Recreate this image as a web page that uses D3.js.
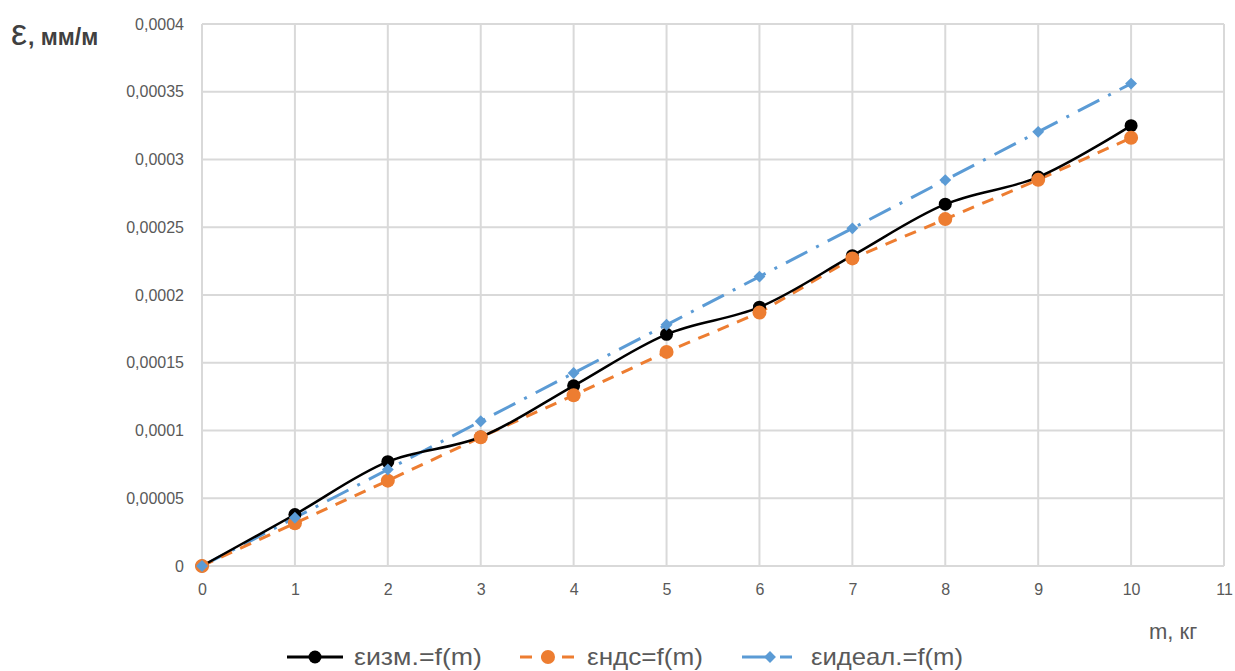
<!DOCTYPE html>
<html><head><meta charset="utf-8">
<script src="https://cdn.jsdelivr.net/npm/d3@7"></script>
<style>
html,body{margin:0;padding:0;background:#fff;}
svg{display:block;font-family:"Liberation Sans","Open Sans",sans-serif;}
</style></head>
<body>
<svg id="chart" width="1235" height="671"></svg>
<script>
const masses = [0,1,2,3,4,5,6,7,8,9,10];
const epsMeasured = [0,0.0000380,0.0000770,0.0000952,0.000133,0.000171,0.000191,0.000229,0.000267,0.000287,0.000325];
const epsNDS = [0,0.0000316,0.0000630,0.0000950,0.000126,0.000158,0.000187,0.000227,0.000256,0.000285,0.000316];
const epsIdeal = [0,0.0000356,0.0000712,0.0001068,0.0001424,0.000178,0.0002136,0.0002492,0.0002848,0.0003204,0.000356];
const xTicks = [0,1,2,3,4,5,6,7,8,9,10,11];
const yTicks = [0,0.00005,0.0001,0.00015,0.0002,0.00025,0.0003,0.00035,0.0004];
const yTickLabels = ["0","0,00005","0,0001","0,00015","0,0002","0,00025","0,0003","0,00035","0,0004"];
const seriesNames = ["εизм.=f(m)","εндс=f(m)","εидеал.=f(m)"];

const svg = d3.select("#chart");
const x = d3.scaleLinear().domain([0,11]).range([202,1224]);
const y = d3.scaleLinear().domain([0,0.0004]).range([566,24]);
const grid = "#d9d9d9", txt = "#595959";

// gridlines
svg.append("g").selectAll("line").data(yTicks).join("line")
  .attr("x1",x(0)).attr("x2",x(11)).attr("y1",d=>y(d)).attr("y2",d=>y(d))
  .attr("stroke",grid).attr("stroke-width",2);
svg.append("g").selectAll("line").data(xTicks).join("line")
  .attr("y1",y(0)).attr("y2",y(0.0004)).attr("x1",d=>x(d)).attr("x2",d=>x(d))
  .attr("stroke",grid).attr("stroke-width",2);

// axes
const yAxis = d3.axisLeft(y).tickValues(yTicks).tickFormat((d,i)=>yTickLabels[i]).tickSize(0).tickPadding(18);
const gy = svg.append("g").attr("transform",`translate(${x(0)},0)`).call(yAxis);
gy.select(".domain").remove();
gy.selectAll("text").attr("fill",txt).style("font-size","16px").style("font-family","Liberation Sans, sans-serif");

const xAxis = d3.axisBottom(x).tickValues(xTicks).tickFormat(d3.format("d")).tickSize(0).tickPadding(18);
const gx = svg.append("g").attr("transform",`translate(0,${y(0)})`).call(xAxis);
gx.select(".domain").remove();
gx.selectAll("text").attr("fill",txt).style("font-size","16px").style("font-family","Liberation Sans, sans-serif");

// axis titles
const yt = svg.append("text").attr("x",11).attr("y",45).attr("fill","#404040");
yt.append("tspan").text("ε").style("font-size","36px");
yt.append("tspan").text(", мм/м").style("font-size","23px").style("font-weight","bold").attr("dx",1);
svg.append("text").attr("x",1149).attr("y",639).attr("fill",txt).style("font-size","22px").text("m, кг");

// data
const mk = arr => masses.map((m,i)=>({m,v:arr[i]}));
const dMeas = mk(epsMeasured), dNDS = mk(epsNDS), dIdeal = mk(epsIdeal);

const lineSmooth = d3.line().x(d=>x(d.m)).y(d=>y(d.v)).curve(d3.curveCatmullRom.alpha(0.5));
const lineStraight = d3.line().x(d=>x(d.m)).y(d=>y(d.v));

const black="#000000", orange="#ED7D31", blue="#5B9BD5";

svg.append("path").datum(dIdeal).attr("d",lineStraight).attr("fill","none")
  .attr("stroke",blue).attr("stroke-width",3).attr("stroke-dasharray","24 10 3 10");
svg.append("path").datum(dNDS).attr("d",lineStraight).attr("fill","none")
  .attr("stroke",orange).attr("stroke-width",3).attr("stroke-dasharray","12 9");
svg.append("path").datum(dMeas).attr("d",lineSmooth).attr("fill","none")
  .attr("stroke",black).attr("stroke-width",2.5);

svg.append("g").selectAll("circle").data(dMeas).join("circle")
  .attr("cx",d=>x(d.m)).attr("cy",d=>y(d.v)).attr("r",6.5).attr("fill",black);
svg.append("g").selectAll("circle").data(dNDS).join("circle")
  .attr("cx",d=>x(d.m)).attr("cy",d=>y(d.v)).attr("r",7).attr("fill",orange);
const diamond = d3.symbol().type(d3.symbolDiamond2).size(90);
svg.append("g").selectAll("path").data(dIdeal).join("path")
  .attr("transform",d=>`translate(${x(d.m)},${y(d.v)})`).attr("d",diamond).attr("fill",blue);

// legend
const leg = svg.append("g");
const legItems = [
  {name:seriesNames[0], x0:287, color:black, dash:null, mark:"circle", r:6.5, tx:354, w:128},
  {name:seriesNames[1], x0:520, color:orange, dash:"12 9", mark:"circle", r:7, tx:587, w:116},
  {name:seriesNames[2], x0:742, color:blue, dash:"30 8 12", mark:"diamond", tx:811, w:152}
];
const ly = 657;
legItems.forEach(it=>{
  leg.append("line").attr("x1",it.x0).attr("x2",it.x0+56).attr("y1",ly).attr("y2",ly)
    .attr("stroke",it.color).attr("stroke-width",3).attr("stroke-dasharray",it.dash);
  if(it.mark==="circle"){
    leg.append("circle").attr("cx",it.x0+28).attr("cy",ly).attr("r",it.r).attr("fill",it.color);
  } else {
    leg.append("path").attr("transform",`translate(${it.x0+28},${ly})`).attr("d",diamond).attr("fill",it.color);
  }
  leg.append("text").attr("x",it.tx).attr("y",ly+8).attr("fill",txt).style("font-size","24px")
    .attr("textLength",it.w).attr("lengthAdjust","spacingAndGlyphs").text(it.name);
});
</script>
</body></html>
